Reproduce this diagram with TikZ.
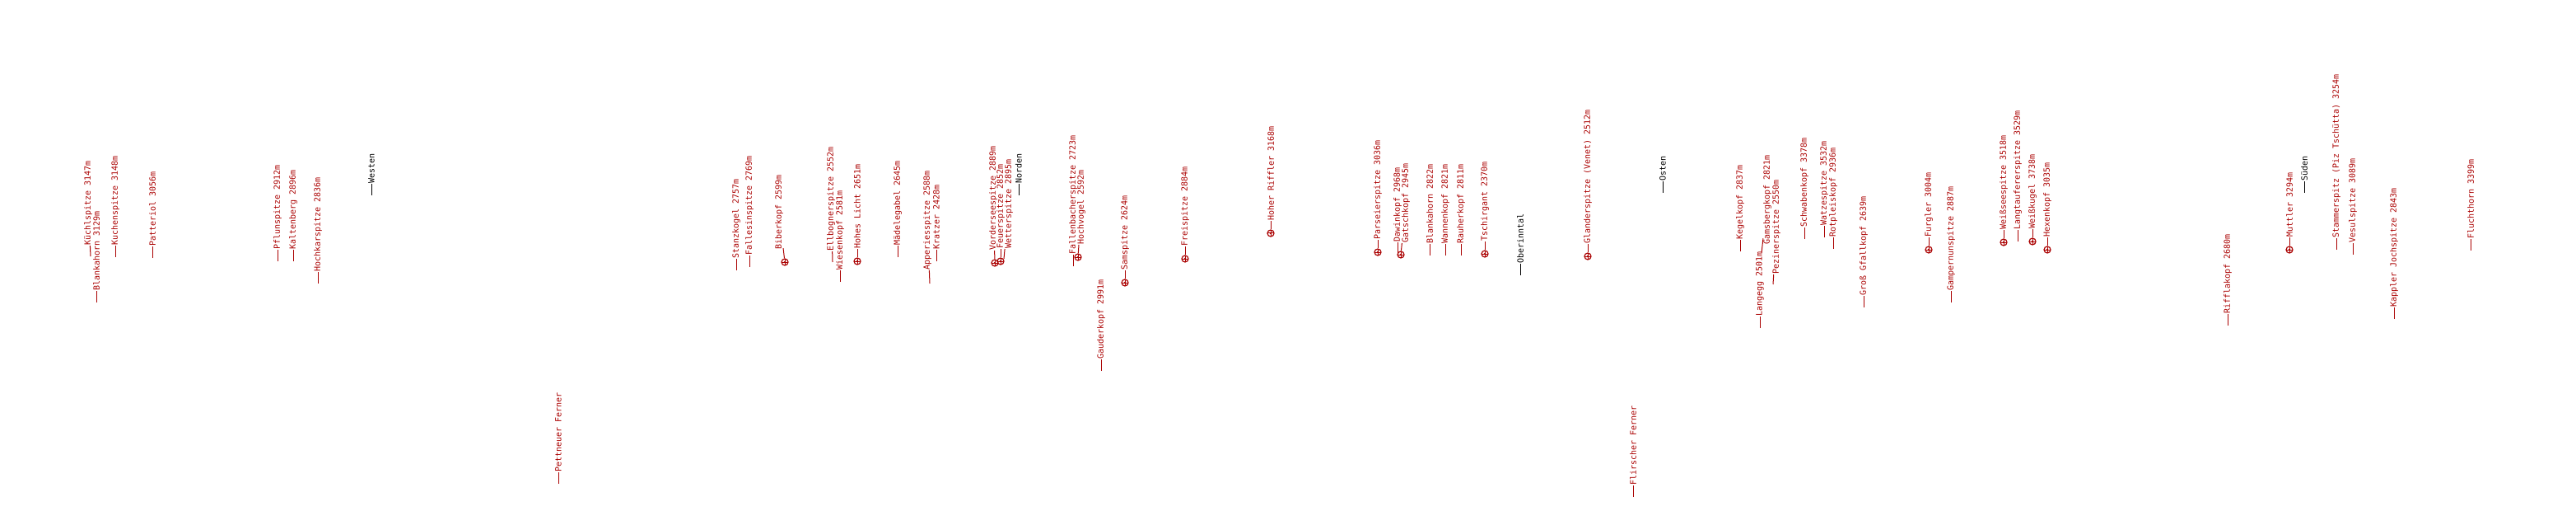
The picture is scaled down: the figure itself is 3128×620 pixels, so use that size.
\documentclass[tikz,border=0pt]{standalone}
\usepackage{fontspec}
\usepackage{tikz}
\newfontfamily\panofont{DejaVu Sans Mono}
\definecolor{peakred}{RGB}{170,0,0}

\begin{document}
\begin{tikzpicture}[x=1pt, y=-1pt,
  peak/.style={rotate=90, anchor=west, inner sep=0pt, text=peakred,
    font=\panofont\fontsize{10}{12}\selectfont},
  compass/.style={peak, text=black},
  tick/.style={draw=peakred, line width=1pt},
  blacktick/.style={draw=black, line width=1pt},
  summit/.style={circle, draw=peakred, line width=1.2pt, inner sep=0pt, minimum size=8pt,
    path picture={\draw[peakred, line width=1pt]
      (path picture bounding box.north) -- (path picture bounding box.south)
      (path picture bounding box.west) -- (path picture bounding box.east);
      \fill[peakred] (path picture bounding box.center) circle (1.3pt);}}]
\useasboundingbox (0,0) rectangle (3128,620);

% Westen
\node[peak] (kuechl) at (107,298) {Küchlspitze 3147m};
\coordinate (kuechl-b) at (110,311);
\draw[tick] (kuechl) -- (kuechl-b);
\coordinate (blankaW-b) at (117,367);
\node[peak] (blankaW) at (117,353) {Blankahorn 3129m};
\draw[tick] (blankaW-b) -- (blankaW);
\coordinate (kuchen-b) at (140,312);
\node[peak] (kuchen) at (140,298) {Kuchenspitze 3148m};
\draw[tick] (kuchen-b) -- (kuchen);
\coordinate (patteriol-b) at (185,313);
\node[peak] (patteriol) at (185,299) {Patteriol 3056m};
\draw[tick] (patteriol-b) -- (patteriol);
\coordinate (pflun-b) at (337,317);
\node[peak] (pflun) at (337,303) {Pflunspitze 2912m};
\draw[tick] (pflun-b) -- (pflun);
\coordinate (kalten-b) at (356,317);
\node[peak] (kalten) at (356,303) {Kaltenberg 2896m};
\draw[tick] (kalten-b) -- (kalten);
\coordinate (hochkar-b) at (386,344);
\node[peak] (hochkar) at (386,330) {Hochkarspitze 2836m};
\draw[tick] (hochkar-b) -- (hochkar);
\coordinate (westen-b) at (451,237);
\node[compass] (westen) at (451,223) {Westen};
\draw[blacktick] (westen-b) -- (westen);
\coordinate (pettneuer-b) at (678,587);
\node[peak] (pettneuer) at (678,573) {Pettneuer Ferner};
\draw[tick] (pettneuer-b) -- (pettneuer);

% Norden
\coordinate (stanz-b) at (894,328);
\node[peak] (stanz) at (894,314) {Stanzkogel 2757m};
\draw[tick] (stanz-b) -- (stanz);
\coordinate (fallesin-b) at (910,324);
\node[peak] (fallesin) at (910,310) {Fallesinspitze 2769m};
\draw[tick] (fallesin-b) -- (fallesin);
\node[peak] (biber) at (946,303) {Biberkopf 2599m};
\node[summit] (biber-m) at (953,318) {};
\draw[tick] (biber) -- (biber-m);
\node[peak] (ellbogner) at (1009,305) {Ellbognerspitze 2552m};
\coordinate (ellbogner-b) at (1011,318);
\draw[tick] (ellbogner) -- (ellbogner-b);
\coordinate (wiesen-b) at (1020,342);
\node[peak] (wiesen) at (1020,328) {Wiesenkopf 2581m};
\draw[tick] (wiesen-b) -- (wiesen);
\node[summit] (hoheslicht-m) at (1041,317) {};
\node[peak] (hoheslicht) at (1041,302) {Hohes Licht 2651m};
\draw[tick] (hoheslicht-m) -- (hoheslicht);
\coordinate (maedele-b) at (1090,312);
\node[peak] (maedele) at (1090,298) {Mädelegabel 2645m};
\draw[tick] (maedele-b) -- (maedele);
\node[peak] (apperies) at (1126,328) {Apperiesspitze 2588m};
\coordinate (apperies-b) at (1129,344);
\draw[tick] (apperies) -- (apperies-b);
\coordinate (kratzer-b) at (1137,317);
\node[peak] (kratzer) at (1137,303) {Kratzer 2428m};
\draw[tick] (kratzer-b) -- (kratzer);
\node[peak] (vordersee) at (1206,304) {Vorderseespitze 2889m};
\node[summit] (vordersee-m) at (1208,319) {};
\draw[tick] (vordersee) -- (vordersee-m);
\node[summit] (feuer-m) at (1215,317) {};
\node[peak] (feuer) at (1215,302) {Feuerspitze 2852m};
\draw[tick] (feuer-m) -- (feuer);
\node[peak] (wetter) at (1225,302) {Wetterspitze 2895m};
\coordinate (wetter-b) at (1219,314);
\draw[tick] (wetter) -- (wetter-b);
\coordinate (norden-b) at (1237,237);
\node[compass] (norden) at (1237,223) {Norden};
\draw[blacktick] (norden-b) -- (norden);
\coordinate (fallenbach-b) at (1303,323);
\node[peak] (fallenbach) at (1303,309) {Fallenbacherspitze 2723m};
\draw[tick] (fallenbach-b) -- (fallenbach);
\node[peak] (hochvogel) at (1313,297) {Hochvogel 2592m};
\node[summit] (hochvogel-m) at (1309,312) {};
\draw[tick] (hochvogel) -- (hochvogel-m);
\coordinate (gauder-b) at (1337,450);
\node[peak] (gauder) at (1337,436) {Gauderkopf 2991m};
\draw[tick] (gauder-b) -- (gauder);
\node[summit] (sam-m) at (1366,343) {};
\node[peak] (sam) at (1366,328) {Samspitze 2624m};
\draw[tick] (sam-m) -- (sam);
\node[summit] (frei-m) at (1439,314) {};
\node[peak] (frei) at (1439,299) {Freispitze 2884m};
\draw[tick] (frei-m) -- (frei);
\node[summit] (riffler-m) at (1543,283) {};
\node[peak] (riffler) at (1543,268) {Hoher Riffler 3168m};
\draw[tick] (riffler-m) -- (riffler);
\node[summit] (parseier-m) at (1673,306) {};
\node[peak] (parseier) at (1673,291) {Parseierspitze 3036m};
\draw[tick] (parseier-m) -- (parseier);
\coordinate (dawin-b) at (1697,308);
\node[peak] (dawin) at (1697,294) {Dawinkopf 2968m};
\draw[tick] (dawin-b) -- (dawin);
\node[peak] (gatsch) at (1707,295) {Gatschkopf 2945m};
\node[summit] (gatsch-m) at (1701,309) {};
\draw[tick] (gatsch) -- (gatsch-m);
\coordinate (blankaE-b) at (1736,310);
\node[peak] (blankaE) at (1736,296) {Blankahorn 2822m};
\draw[tick] (blankaE-b) -- (blankaE);
\coordinate (wannen-b) at (1755,310);
\node[peak] (wannen) at (1755,296) {Wannenkopf 2821m};
\draw[tick] (wannen-b) -- (wannen);
\coordinate (rauher-b) at (1774,310);
\node[peak] (rauher) at (1774,296) {Rauherkopf 2811m};
\draw[tick] (rauher-b) -- (rauher);
\node[summit] (tschirgant-m) at (1803,308) {};
\node[peak] (tschirgant) at (1803,293) {Tschirgant 2370m};
\draw[tick] (tschirgant-m) -- (tschirgant);
\coordinate (oberinntal-b) at (1846,334);
\node[compass] (oberinntal) at (1846,320) {Oberinntal};
\draw[blacktick] (oberinntal-b) -- (oberinntal);

% Osten
\node[summit] (glander-m) at (1928,311) {};
\node[peak] (glander) at (1928,296) {Glanderspitze (Venet) 2512m};
\draw[tick] (glander-m) -- (glander);
\coordinate (flirscher-b) at (1983,603);
\node[peak] (flirscher) at (1983,589) {Flirscher Ferner};
\draw[tick] (flirscher-b) -- (flirscher);
\coordinate (osten-b) at (2019,234);
\node[compass] (osten) at (2019,220) {Osten};
\draw[blacktick] (osten-b) -- (osten);
\coordinate (kegel-b) at (2113,305);
\node[peak] (kegel) at (2113,291) {Kegelkopf 2837m};
\draw[tick] (kegel-b) -- (kegel);
\coordinate (langegg-b) at (2137,398);
\node[peak] (langegg) at (2137,384) {Langegg 2501m};
\draw[tick] (langegg-b) -- (langegg);
\node[peak] (gamsberg) at (2146,297) {Gamsbergkopf 2821m};
\coordinate (gamsberg-b) at (2139,307);
\draw[tick] (gamsberg) -- (gamsberg-b);
\node[peak] (peziner) at (2157,333) {Pezinerspitze 2550m};
\coordinate (peziner-b) at (2153,345);
\draw[tick] (peziner) -- (peziner-b);
\coordinate (schwaben-b) at (2191,290);
\node[peak] (schwaben) at (2191,276) {Schwabenkopf 3378m};
\draw[tick] (schwaben-b) -- (schwaben);
\coordinate (watze-b) at (2215,288);
\node[peak] (watze) at (2215,274) {Watzespitze 3532m};
\draw[tick] (watze-b) -- (watze);
\coordinate (rotpleis-b) at (2226,302);
\node[peak] (rotpleis) at (2226,288) {Rotpleiskopf 2936m};
\draw[tick] (rotpleis-b) -- (rotpleis);
\coordinate (gfall-b) at (2263,373);
\node[peak] (gfall) at (2263,359) {Groß Gfallkopf 2639m};
\draw[tick] (gfall-b) -- (gfall);
\node[summit] (furgler-m) at (2342,303) {};
\node[peak] (furgler) at (2342,288) {Furgler 3004m};
\draw[tick] (furgler-m) -- (furgler);
\coordinate (gampernun-b) at (2369,367);
\node[peak] (gampernun) at (2369,353) {Gampernunspitze 2887m};
\draw[tick] (gampernun-b) -- (gampernun);
\node[summit] (weisssee-m) at (2433,294) {};
\node[peak] (weisssee) at (2433,279) {Weißseespitze 3518m};
\draw[tick] (weisssee-m) -- (weisssee);
\coordinate (langtauf-b) at (2450,293);
\node[peak] (langtauf) at (2450,279) {Langtaufererspitze 3529m};
\draw[tick] (langtauf-b) -- (langtauf);
\node[summit] (weisskugel-m) at (2468,293) {};
\node[peak] (weisskugel) at (2468,278) {Weißkugel 3738m};
\draw[tick] (weisskugel-m) -- (weisskugel);
\node[summit] (hexen-m) at (2486,303) {};
\node[peak] (hexen) at (2486,288) {Hexenkopf 3035m};
\draw[tick] (hexen-m) -- (hexen);

% Sueden
\coordinate (riffla-b) at (2705,395);
\node[peak] (riffla) at (2705,381) {Rifflakopf 2680m};
\draw[tick] (riffla-b) -- (riffla);
\node[summit] (muttler-m) at (2780,303) {};
\node[peak] (muttler) at (2780,288) {Muttler 3294m};
\draw[tick] (muttler-m) -- (muttler);
\coordinate (sueden-b) at (2798,234);
\node[compass] (sueden) at (2798,220) {Süden};
\draw[blacktick] (sueden-b) -- (sueden);
\coordinate (stammer-b) at (2837,303);
\node[peak] (stammer) at (2837,289) {Stammerspitz (Piz Tschütta) 3254m};
\draw[tick] (stammer-b) -- (stammer);
\coordinate (vesul-b) at (2857,309);
\node[peak] (vesul) at (2857,295) {Vesulspitze 3089m};
\draw[tick] (vesul-b) -- (vesul);
\coordinate (kappler-b) at (2907,387);
\node[peak] (kappler) at (2907,373) {Kappler Jochspitze 2843m};
\draw[tick] (kappler-b) -- (kappler);
\coordinate (flucht-b) at (3000,304);
\node[peak] (flucht) at (3000,290) {Fluchthorn 3399m};
\draw[tick] (flucht-b) -- (flucht);
\end{tikzpicture}
\end{document}
